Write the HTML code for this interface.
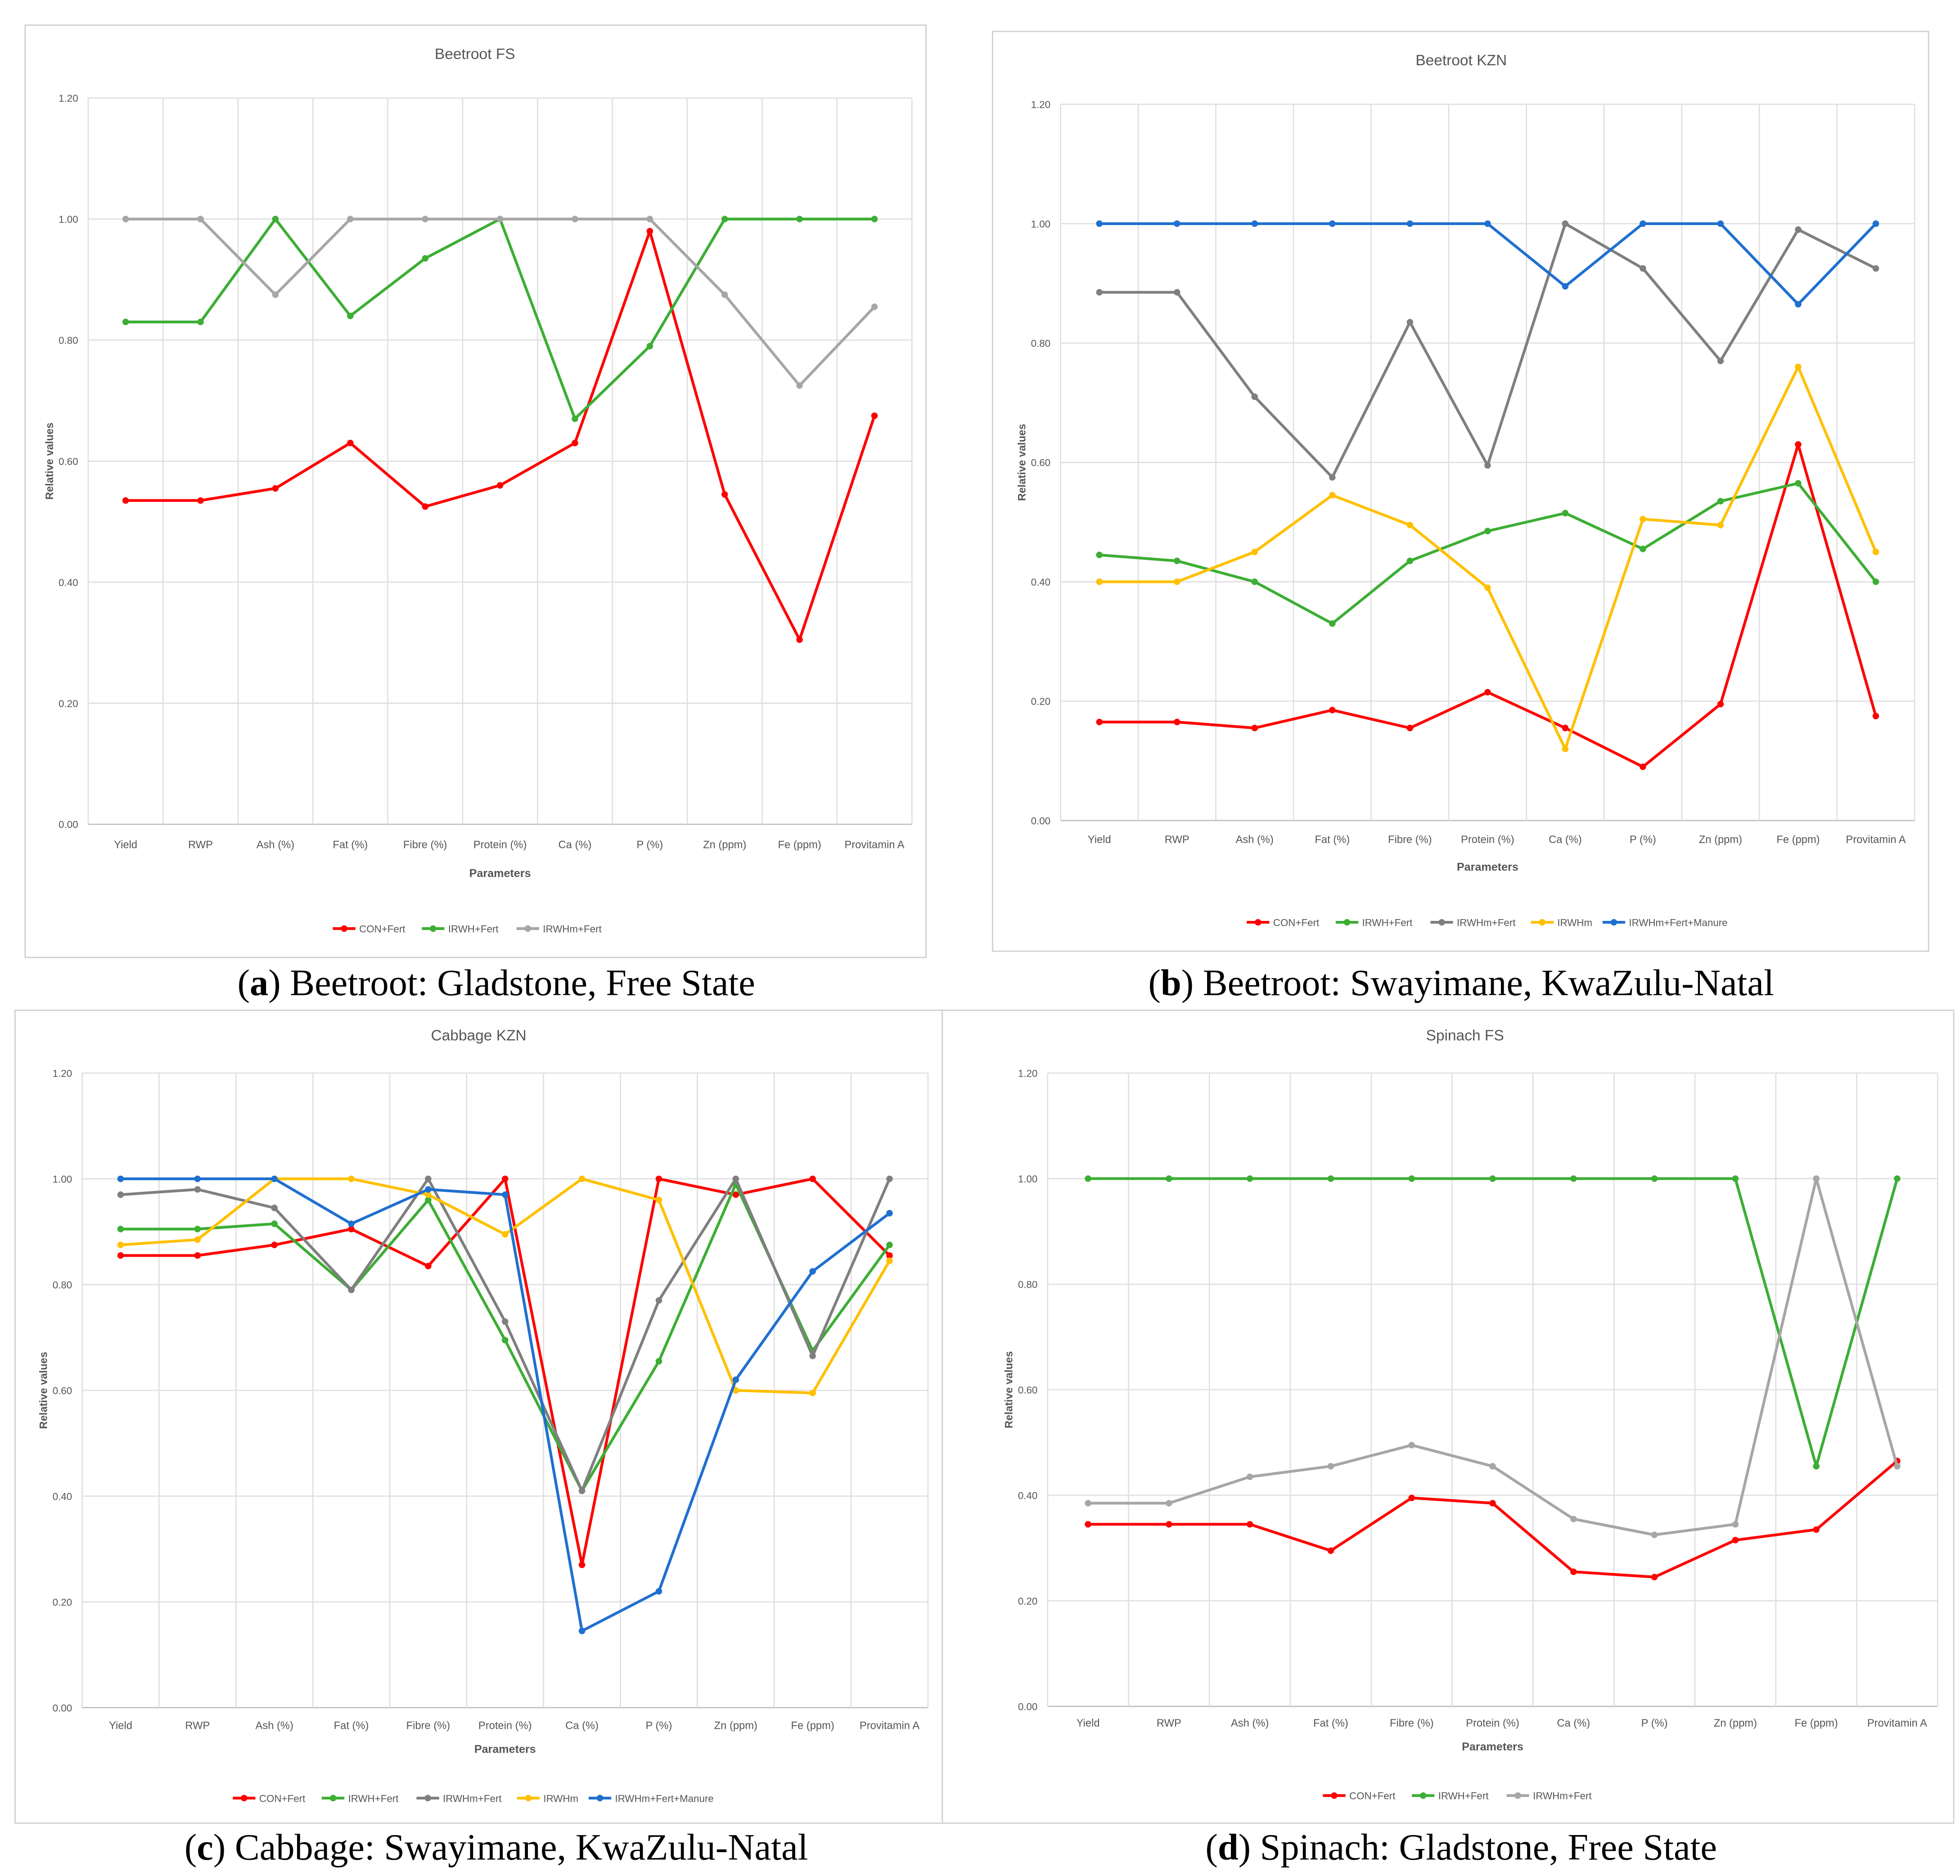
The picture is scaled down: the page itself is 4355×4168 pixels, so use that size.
<!DOCTYPE html>
<html><head><meta charset="utf-8"><style>
html,body{margin:0;padding:0;background:#fff}
svg{display:block}
</style></head><body>
<svg id="fig" width="4355" height="4168" viewBox="0 0 1560 1493" preserveAspectRatio="none" xmlns="http://www.w3.org/2000/svg" font-family="Liberation Sans, sans-serif"></svg>
<script>
const categories=["Yield","RWP","Ash (%)","Fat (%)","Fibre (%)","Protein (%)","Ca (%)","P (%)","Zn (ppm)","Fe (ppm)","Provitamin A"];
const yTicks=[0,0.2,0.4,0.6,0.8,1.0,1.2];
const yTickLabels=["0.00","0.20","0.40","0.60","0.80","1.00","1.20"];
const seriesNames=["CON+Fert","IRWH+Fert","IRWHm+Fert","IRWHm","IRWHm+Fert+Manure"];
const aRed=[0.535,0.535,0.555,0.63,0.525,0.56,0.63,0.98,0.545,0.305,0.675];
const aGreen=[0.83,0.83,1.0,0.84,0.935,1.0,0.67,0.79,1.0,1.0,1.0];
const aGray=[1,1,0.875,1,1,1,1,1,0.875,0.725,0.855];
const bRed=[0.165,0.165,0.155,0.185,0.155,0.215,0.155,0.09,0.195,0.63,0.175];
const bGreen=[0.445,0.435,0.40,0.33,0.435,0.485,0.515,0.455,0.535,0.565,0.40];
const bGray=[0.885,0.885,0.71,0.575,0.835,0.595,1.0,0.925,0.77,0.99,0.925];
const bYellow=[0.40,0.40,0.45,0.545,0.495,0.39,0.12,0.505,0.495,0.76,0.45];
const bBlue=[1,1,1,1,1,1,0.895,1,1,0.865,1];
const cRed=[0.855,0.855,0.875,0.905,0.835,1.0,0.27,1.0,0.97,1.0,0.855];
const cGreen=[0.905,0.905,0.915,0.79,0.96,0.695,0.41,0.655,0.99,0.675,0.875];
const cGray=[0.97,0.98,0.945,0.79,1.0,0.73,0.41,0.77,1.0,0.665,1.0];
const cYellow=[0.875,0.885,1.0,1.0,0.97,0.895,1.0,0.96,0.60,0.595,0.845];
const cBlue=[1,1,1,0.915,0.98,0.97,0.145,0.22,0.62,0.825,0.935];
const dRed=[0.345,0.345,0.345,0.295,0.395,0.385,0.255,0.245,0.315,0.335,0.465];
const dGreen=[1,1,1,1,1,1,1,1,1,0.455,1];
const dGray=[0.385,0.385,0.435,0.455,0.495,0.455,0.355,0.325,0.345,1.0,0.455];

const NS="http://www.w3.org/2000/svg";
const svg=document.getElementById('fig');
function mk(tag,attrs,parent,text){const e=document.createElementNS(NS,tag);for(const k in attrs)e.setAttribute(k,attrs[k]);if(text!==undefined)e.textContent=text;(parent||svg).appendChild(e);return e;}
const COL={red:"#ff0000",green:"#3cae34",gray:"#a6a6a6",dgray:"#7f7f7f",yellow:"#ffc000",blue:"#1f70d0"};

const panels=[
 {id:"a",box:[20,20,717,742],title:"Beetroot FS",tx:378,ty:47,x0:100,x1:696,y12:78,y0:656,lab:675,par:698,leg:739,legC:378,
  series:[[aRed,COL.red,0],[aGreen,COL.green,1],[aGray,COL.gray,2]],cap:["a",") Beetroot: Gladstone, Free State"],capX:395,capY:786},
 {id:"b",box:[790,25,745,732],title:"Beetroot KZN",tx:1163,ty:52,x0:875,x1:1493,y12:83,y0:653,lab:671,par:693,leg:734,legC:1190,
  series:[[bRed,COL.red,0],[bGreen,COL.green,1],[bGray,COL.dgray,2],[bYellow,COL.yellow,3],[bBlue,COL.blue,4]],cap:["b",") Beetroot: Swayimane, KwaZulu-Natal"],capX:1163,capY:786},
 {id:"c",box:[12,804,738,647],title:"Cabbage KZN",tx:381,ty:828,x0:96,x1:708,y12:854,y0:1359,lab:1376,par:1395,leg:1431,legC:383,
  series:[[cRed,COL.red,0],[cGreen,COL.green,1],[cGray,COL.dgray,2],[cYellow,COL.yellow,3],[cBlue,COL.blue,4]],cap:["c",") Cabbage: Swayimane, KwaZulu-Natal"],capX:395,capY:1474},
 {id:"d",box:[750,804,805,647],title:"Spinach FS",tx:1166,ty:828,x0:866,x1:1510,y12:854,y0:1358,lab:1374,par:1393,leg:1429,legC:1166,
  series:[[dRed,COL.red,0],[dGreen,COL.green,1],[dGray,COL.gray,2]],cap:["d",") Spinach: Gladstone, Free State"],capX:1163,capY:1474}
];

panels.forEach(p=>{
 const g=mk('g',{});
 
 
 const [bx,by,bw,bh]=p.box;
 const fr=mk('rect',{x:bx,y:by,width:bw,height:bh,fill:"#fff",stroke:"#d0d0d0","stroke-width":1},g);
 
 
 const n=categories.length, step=(p.x1-p.x0)/(n-1);
 const xs=i=>p.x0+i*step;
 const ys=v=>p.y0-(v/1.2)*(p.y0-p.y12);
 const gl=p.x0-step/2, gr=p.x1+step/2;
 yTicks.forEach((t,i)=>{
  const l=mk('line',{x1:gl,x2:gr,y1:ys(t),y2:ys(t),stroke:i===0?"#bfbfbf":"#e0e0e0","stroke-width":1},g);
  
  
  const tl=mk('text',{x:gl-8,y:ys(t)+3,"font-size":8,fill:"#555","text-anchor":"end"},g,yTickLabels[i]);
  
  
 });
 for(let i=0;i<=n;i++){
  const x=gl+i*step;
  const l=mk('line',{x1:x,x2:x,y1:p.y12,y2:p.y0,stroke:"#e0e0e0","stroke-width":1},g);
  
  
 }
 categories.forEach((c,i)=>{
  const t=mk('text',{x:xs(i),y:p.lab,"font-size":8.5,fill:"#555","text-anchor":"middle"},g,c);
  
  
 });
 const tt=mk('text',{x:p.tx,y:p.ty,"font-size":12,fill:"#555","text-anchor":"middle"},g,p.title);
 
 
 const pt=mk('text',{x:(p.x0+p.x1)/2,y:p.par,"font-size":9,"font-weight":"bold",fill:"#555","text-anchor":"middle"},g,"Parameters");
 
 
 const yx=gl-28, yc=(p.y0+p.y12)/2;
 const yt=mk('text',{x:yx,y:yc,"font-size":8.5,"font-weight":"bold",fill:"#555","text-anchor":"middle",transform:`rotate(-90 ${yx} ${yc})`},g,"Relative values");
 
 
 p.series.forEach(([vals,col,si])=>{
  const pts=vals.map((v,i)=>xs(i)+","+ys(v)).join(" ");
  const pl=mk('polyline',{points:pts,fill:"none",stroke:col,"stroke-width":2.2,"stroke-linejoin":"round"},g);
  
  
  vals.forEach((v,i)=>{
   const c=mk('circle',{cx:xs(i),cy:ys(v),r:2.6,fill:col},g);
   
   
  });
 });
 const widths=p.series.map(s=>24+seriesNames[s[2]].length*4.6+10);
 const total=widths.reduce((a,b)=>a+b,0);
 let lx=p.legC-total/2;
 p.series.forEach(([vals,col,si],k)=>{
  const lg=mk('g',{},g);
  
  
  mk('line',{x1:lx,x2:lx+18,y1:p.leg,y2:p.leg,stroke:col,"stroke-width":2.2},lg);
  mk('circle',{cx:lx+9,cy:p.leg,r:2.6,fill:col},lg);
  mk('text',{x:lx+21,y:p.leg+3,"font-size":8,fill:"#555"},lg,seriesNames[si]);
  lx+=widths[k];
 });
 const cap=mk('text',{x:p.capX,y:p.capY+6,"font-size":29.5,fill:"#000","text-anchor":"middle","font-family":"Liberation Serif, serif"});
 
 
 mk('tspan',{},cap,"(");
 mk('tspan',{"font-weight":"bold"},cap,p.cap[0]);
 mk('tspan',{},cap,p.cap[1]);
});
</script>
</body></html>
